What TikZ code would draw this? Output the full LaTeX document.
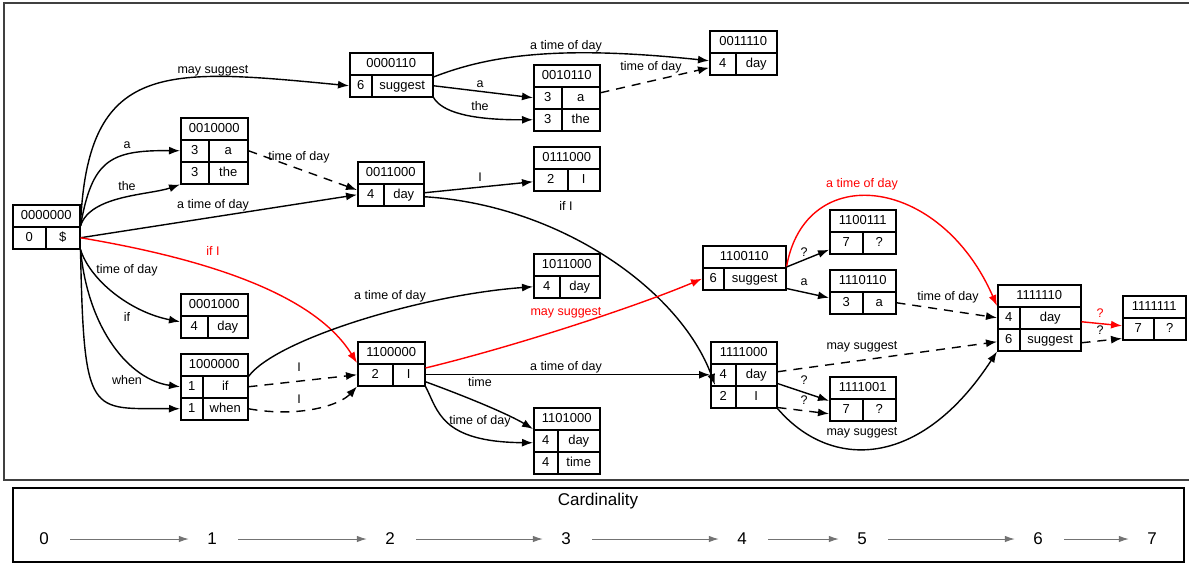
\documentclass[tikz,border=0pt]{standalone}
\usepackage{fontspec}
\setmainfont{Liberation Sans}
\usetikzlibrary{arrows.meta}
\begin{document}
\begin{tikzpicture}[x=1pt,y=-1pt,
  recbox/.style={draw, line width=1.5pt, inner sep=0pt, minimum height=22pt, anchor=north west,
    font=\fontsize{13}{15}\selectfont, text height=9.5pt, text depth=2.5pt},
  conn/.style={line width=1.4pt, -{Latex[length=11pt,width=8pt]}},
  dsh/.style={dash pattern=on 9pt off 7pt},
  lab/.style={font=\fontsize{12.5}{14}\selectfont, inner sep=0pt, text height=9pt, text depth=2.5pt},
  legnum/.style={font=\fontsize{17}{20}\selectfont, minimum width=46pt, inner sep=0pt},
  legarrow/.style={draw=black!55, line width=1pt, -{Latex[length=10pt,width=6.5pt]}, shorten <=3pt}]
\useasboundingbox (0,0) rectangle (1189,563);
% frames
\draw[line width=1.3pt, draw=black!75] (1192,3) -- (4,3) -- (4,480) -- (1192,480);
\draw[line width=1.3pt] (13,488) rectangle (1184,562);

% records
\node[recbox,minimum width=67] (A) at (12,204) {0000000};
\node[recbox,minimum width=33] (An) at (12,226) {0};
\node[recbox,minimum width=34] (Aw) at (45,226) {\$};

\node[recbox,minimum width=67] (B) at (180,117) {0010000};
\node[recbox,minimum width=28] (Bn) at (180,139) {3};
\node[recbox,minimum width=39] (Bw) at (208,139) {a};
\node[recbox,minimum width=28] (Bn2) at (180,161) {3};
\node[recbox,minimum width=39] (Bw2) at (208,161) {the};

\node[recbox,minimum width=83] (C) at (349,52) {0000110};
\node[recbox,minimum width=22] (Cn) at (349,74) {6};
\node[recbox,minimum width=61] (Cw) at (371,74) {suggest};

\node[recbox,minimum width=66] (D) at (533,64) {0010110};
\node[recbox,minimum width=28] (Dn) at (533,86) {3};
\node[recbox,minimum width=38] (Dw) at (561,86) {a};
\node[recbox,minimum width=28] (Dn2) at (533,108) {3};
\node[recbox,minimum width=38] (Dw2) at (561,108) {the};

\node[recbox,minimum width=67] (E) at (709,30) {0011110};
\node[recbox,minimum width=26] (En) at (709,52) {4};
\node[recbox,minimum width=41] (Ew) at (735,52) {day};

\node[recbox,minimum width=66] (F) at (357,161) {0011000};
\node[recbox,minimum width=26] (Fn) at (357,183) {4};
\node[recbox,minimum width=40] (Fw) at (383,183) {day};

\node[recbox,minimum width=66] (G) at (533,146) {0111000};
\node[recbox,minimum width=34] (Gn) at (533,168) {2};
\node[recbox,minimum width=32] (Gw) at (567,168) {I};

\node[recbox,minimum width=67] (H) at (180,293) {0001000};
\node[recbox,minimum width=27] (Hn) at (180,315) {4};
\node[recbox,minimum width=40] (Hw) at (207,315) {day};

\node[recbox,minimum width=67] (I) at (180,353) {1000000};
\node[recbox,minimum width=22] (In) at (180,375) {1};
\node[recbox,minimum width=45] (Iw) at (202,375) {if};
\node[recbox,minimum width=22] (In2) at (180,397) {1};
\node[recbox,minimum width=45] (Iw2) at (202,397) {when};

\node[recbox,minimum width=67] (J) at (357,341) {1100000};
\node[recbox,minimum width=35] (Jn) at (357,363) {2};
\node[recbox,minimum width=32] (Jw) at (392,363) {I};

\node[recbox,minimum width=66] (K) at (533,253) {1011000};
\node[recbox,minimum width=26] (Kn) at (533,275) {4};
\node[recbox,minimum width=40] (Kw) at (559,275) {day};

\node[recbox,minimum width=66] (L) at (533,407) {1101000};
\node[recbox,minimum width=24] (Ln) at (533,429) {4};
\node[recbox,minimum width=42] (Lw) at (557,429) {day};
\node[recbox,minimum width=24] (Ln2) at (533,451) {4};
\node[recbox,minimum width=42] (Lw2) at (557,451) {time};

\node[recbox,minimum width=83] (M) at (702,245) {1100110};
\node[recbox,minimum width=21] (Mn) at (702,267) {6};
\node[recbox,minimum width=62] (Mw) at (723,267) {suggest};

\node[recbox,minimum width=66] (N) at (710,341) {1111000};
\node[recbox,minimum width=25] (Nn) at (710,363) {4};
\node[recbox,minimum width=41] (Nw) at (735,363) {day};
\node[recbox,minimum width=25] (Nn2) at (710,385) {2};
\node[recbox,minimum width=41] (Nw2) at (735,385) {I};

\node[recbox,minimum width=66] (O) at (829,209) {1100111};
\node[recbox,minimum width=33] (On) at (829,231) {7};
\node[recbox,minimum width=33] (Ow) at (862,231) {?};

\node[recbox,minimum width=66] (P) at (829,269) {1110110};
\node[recbox,minimum width=33] (Pn) at (829,291) {3};
\node[recbox,minimum width=33] (Pw) at (862,291) {a};

\node[recbox,minimum width=66] (Q) at (829,376) {1111001};
\node[recbox,minimum width=33] (Qn) at (829,398) {7};
\node[recbox,minimum width=33] (Qw) at (862,398) {?};

\node[recbox,minimum width=83] (R) at (997,284) {1111110};
\node[recbox,minimum width=22] (Rn) at (997,306) {4};
\node[recbox,minimum width=61] (Rw) at (1019,306) {day};
\node[recbox,minimum width=22] (Rn2) at (997,328) {6};
\node[recbox,minimum width=61] (Rw2) at (1019,328) {suggest};

\node[recbox,minimum width=63] (S) at (1122,295) {1111111};
\node[recbox,minimum width=31] (Sn) at (1122,317) {7};
\node[recbox,minimum width=32] (Sw) at (1153,317) {?};

% connectors
\draw[conn] (Aw.north east) .. controls (87,60) and (165,68) .. (Cn.west);
\draw[conn] (Aw.north east) .. controls (92,160) and (110,150) .. (Bn.west);
\draw[conn] (Aw.north east) .. controls (90,195) and (150,195) .. (Bn2.south west);
\draw[conn] (Aw.east) -- (Fn.west);
\draw[conn,red] (Aw.east) .. controls (225,262) and (318,300) .. (Jn.north west);
\draw[conn] (Aw.south east) .. controls (90,280) and (130,312) .. ([yshift=5pt]Hn.west);
\draw[conn] (Aw.south east) .. controls (88,330) and (130,380) .. (In.west);
\draw[conn] (Aw.south east) .. controls (84,420) and (90,408) .. (In2.west);
\draw[conn,dsh] (Bw.east) -- ([yshift=-7pt]Fn.north west);
\draw[conn] ([yshift=-3pt]Cw.north east) .. controls (490,55) and (560,45) .. ([yshift=3pt]En.west);
\draw[conn] (Cw.east) -- (Dn.west);
\draw[conn] (Cw.south east) .. controls (442,112) and (470,120) .. (Dn2.west);
\draw[conn,dsh] ([yshift=5pt]Dw.east) -- ([yshift=-4pt]En.west);
\draw[conn] ([yshift=2pt]Fw.east) -- ([yshift=-2pt]Gn.west);
\draw[conn] ([yshift=-2pt]Fw.east) .. controls (560,205) and (680,290) .. ([xshift=5pt]Nn2.north west);
\draw[conn] (I.south east) .. controls (275,340) and (420,295) .. (Kn.west);
\draw[conn,dsh] (Iw.east) -- (Jn.west);
\draw[conn,dsh] (Iw2.east) .. controls (300,418) and (340,405) .. (Jn.south west);
\draw[conn,red] ([yshift=-5pt]Jw.north east) .. controls (520,345) and (640,305) .. (Mn.west);
\draw[conn] (Jw.east) -- (Nn.west);
\draw[conn] ([yshift=-7pt]Jw.east) .. controls (470,398) and (510,415) .. (Ln.north west);
\draw[conn] (Jw.south east) .. controls (438,410) and (440,442) .. ([yshift=-2pt]Ln.west);
\draw[conn,red] (Mw.north east) .. controls (805,160) and (940,175) .. (Rn.north west);
\draw[conn] (Mw.north east) -- ([yshift=-7pt]On.west);
\draw[conn] ([yshift=2pt]Mw.south east) -- ([yshift=5pt]Pn.west);
\draw[conn,dsh] (Pw.east) -- (Rn.west);
\draw[conn,dsh] ([yshift=3pt]Nw.east) -- ([yshift=-2pt]Rn2.west);
\draw[conn] ([yshift=3pt]Nw.south east) -- ([yshift=9pt]Qn.west);
\draw[conn,dsh] ([yshift=1pt]Nw2.south east) -- ([yshift=-4pt]Qn.west);
\draw[conn] (Nw2.south east) .. controls (830,470) and (920,470) .. (Rn2.south west);
\draw[conn,red] ([yshift=-4pt]Rw.east) -- ([yshift=3pt]Sn.west);
\draw[conn,dsh] ([yshift=-3pt]Rw2.east) -- ([yshift=2pt]Sn.south west);

% labels
\node[lab] (t1) at (213,70) {may suggest};
\node[lab] (t2) at (127,145) {a};
\node[lab] (t3) at (127,187) {the};
\node[lab] (t4) at (213,205) {a time of day};
\node[lab,text=red] (t5) at (213,252) {if I};
\node[lab] (t6) at (127,270) {time of day};
\node[lab] (t7) at (127,318) {if};
\node[lab] (t8) at (127,381) {when};
\node[lab] (t9) at (299,157) {time of day};
\node[lab] (t10) at (566,46) {a time of day};
\node[lab] (t11) at (480,84) {a};
\node[lab] (t12) at (480,107) {the};
\node[lab] (t13) at (651,67) {time of day};
\node[lab] (t14) at (480,178) {I};
\node[lab] (t15) at (566,207) {if I};
\node[lab] (t16) at (390,296) {a time of day};
\node[lab] (t17) at (299,368) {I};
\node[lab] (t18) at (299,400) {I};
\node[lab,text=red] (t19) at (566,312) {may suggest};
\node[lab] (t20) at (566,367) {a time of day};
\node[lab] (t21) at (480,383) {time};
\node[lab] (t22) at (480,421) {time of day};
\node[lab,text=red] (t23) at (862,184) {a time of day};
\node[lab] (t24) at (804,253) {?};
\node[lab] (t25) at (804,282) {a};
\node[lab] (t26) at (948,297) {time of day};
\node[lab] (t27) at (862,346) {may suggest};
\node[lab] (t28) at (804,381) {?};
\node[lab] (t29) at (804,401) {?};
\node[lab] (t30) at (862,432) {may suggest};
\node[lab,text=red] (t31) at (1100,314) {?};
\node[lab] (t32) at (1100,331) {?};

% legend
\node[font=\fontsize{17}{20}\selectfont, inner sep=0pt] (card) at (598,501) {Cardinality};
\node[legnum] (c0) at (44,539) {0};
\node[legnum] (c1) at (212,539) {1};
\node[legnum] (c2) at (390,539) {2};
\node[legnum] (c3) at (566,539) {3};
\node[legnum] (c4) at (742,539) {4};
\node[legnum] (c5) at (862,539) {5};
\node[legnum] (c6) at (1038,539) {6};
\node[legnum] (c7) at (1152,539) {7};
\draw[legarrow] (c0) -- (c1);
\draw[legarrow] (c1) -- (c2);
\draw[legarrow] (c2) -- (c3);
\draw[legarrow] (c3) -- (c4);
\draw[legarrow] (c4) -- (c5);
\draw[legarrow] (c5) -- (c6);
\draw[legarrow] (c6) -- (c7);
\end{tikzpicture}
\end{document}
